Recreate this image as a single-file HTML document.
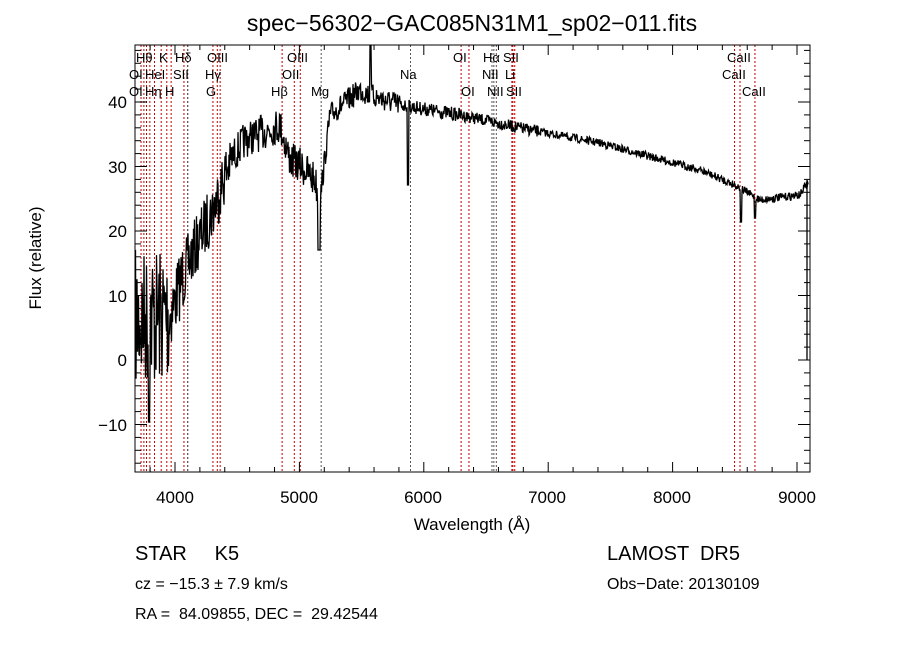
<!DOCTYPE html>
<html><head><meta charset="utf-8"><style>
body{margin:0;background:#fff;}
svg{display:block;font-family:"Liberation Sans",sans-serif;}
text{white-space:pre;}
</style></head><body>
<svg id="s" width="900" height="649" viewBox="0 0 900 649" xmlns="http://www.w3.org/2000/svg">
<rect width="900" height="649" fill="#fff"/>
<text x="472" y="31" font-size="23" text-anchor="middle">spec−56302−GAC085N31M1_sp02−011.fits</text>
<g id="lines"></g>
<polyline id="spec" fill="none" stroke="#000" stroke-width="1.3" points=""/>
<rect x="135" y="45" width="675" height="427" fill="none" stroke="#000" stroke-width="1"/>
<g id="ticks" stroke="#000" stroke-width="1"></g>
<g font-size="17" text-anchor="middle">
<text x="175" y="503">4000</text><text x="299" y="503">5000</text><text x="423" y="503">6000</text>
<text x="547" y="503">7000</text><text x="672" y="503">8000</text><text x="797" y="503">9000</text>
</g>
<g font-size="17" text-anchor="end">
<text x="127" y="108">40</text><text x="127" y="173">30</text><text x="127" y="237">20</text>
<text x="127" y="302">10</text><text x="127" y="366">0</text><text x="127" y="431">−10</text>
</g>
<text x="472" y="530" font-size="17" text-anchor="middle">Wavelength (Å)</text>
<text transform="translate(41,258) rotate(-90)" font-size="17" text-anchor="middle">Flux (relative)</text>
<g font-size="13">
<text x="136" y="62">Hθ</text><text x="159" y="62">K</text><text x="175" y="62">Hδ</text><text x="207" y="62">OIII</text><text x="287" y="62">OIII</text><text x="453" y="62">OI</text><text x="483" y="62">Hα</text><text x="503" y="62">SII</text><text x="727" y="62">CaII</text>
<text x="129" y="79">OI</text><text x="145" y="79">HeI</text><text x="173" y="79">SII</text><text x="205" y="79">Hγ</text><text x="282" y="79">OII</text><text x="400" y="79">Na</text><text x="482" y="79">NII</text><text x="505" y="79">Li</text><text x="722" y="79">CaII</text>
<text x="129" y="96">OI</text><text x="145" y="96">Hη</text><text x="165" y="96">H</text><text x="206" y="96">G</text><text x="271" y="96">Hβ</text><text x="311" y="96">Mg</text><text x="461" y="96">OI</text><text x="487" y="96">NII</text><text x="506" y="96">SII</text><text x="742" y="96">CaII</text>
</g>
<text x="135" y="560" font-size="20">STAR     K5</text>
<text x="607" y="560" font-size="20">LAMOST  DR5</text>
<text x="135" y="589" font-size="16">cz = −15.3 ± 7.9 km/s</text>
<text x="607" y="589" font-size="16">Obs−Date: 20130109</text>
<text x="135" y="619" font-size="16">RA =  84.09855, DEC =  29.42544</text>
</svg>
<script>
var NS="http://www.w3.org/2000/svg";
function X(w){return 175+(w-4000)*0.1244;}
var lg=document.getElementById('lines');
var red=[3727,3750,3771,3798,3835,3889,3934,3969,4072,4102,4305,4340,4363,4861,4959,5007,6300,6363,6716,6731,8498,8542,8662,6708];
var blk=[4102,5175,5893,6548,6563,6583];
function vl(w,c){var l=document.createElementNS(NS,'line');var x=X(w);l.setAttribute('x1',x);l.setAttribute('x2',x);l.setAttribute('y1',45);l.setAttribute('y2',472);l.setAttribute('stroke',c);l.setAttribute('stroke-width','1');l.setAttribute('stroke-dasharray','2,2');lg.appendChild(l);}
red.forEach(function(w){vl(w,'#c00000');});blk.forEach(function(w){vl(w,'#555');});
var tg=document.getElementById('ticks');
function ln(a,b,c,d){var l=document.createElementNS(NS,'line');l.setAttribute('x1',a);l.setAttribute('y1',b);l.setAttribute('x2',c);l.setAttribute('y2',d);tg.appendChild(l);}
for(var w=3800;w<=9100;w+=200){var x=X(w);if(x<135||x>810)continue;var L=(w%1000==0)?10:5;ln(x,472,x,472-L);ln(x,45,x,45+L);}
for(var f=-16;f<=48;f+=2){var y=360-6.45*f;if(y<45||y>472)continue;var L=(f%10==0)?12:6;ln(135,y,135+L,y);ln(810,y,810-L,y);}
var seed=7;function r(){seed=(seed*16807)%2147483647;return seed/2147483647;}
var pts=[[135,320],[170,315],[185,270],[215,205],[230,160],[245,140],[280,125],[290,160],[300,165],[315,180],[320,200],[330,115],[360,90],[370,95],[400,105],[460,115],[520,128],[600,143],[700,170],[735,185],[760,200],[800,195],[806,185]];
function base(x){for(var i=0;i<pts.length-1;i++){if(x<=pts[i+1][0]){var t=(x-pts[i][0])/(pts[i+1][0]-pts[i][0]);return pts[i][1]+t*(pts[i+1][1]-pts[i][1]);}}return 185;}
function amp(x){if(x<170)return 70;if(x<185)return 35;if(x<230)return 30;if(x<320)return 18;if(x<400)return 12;if(x<460)return 7;if(x<540)return 6;return 4;}
var out=[];
for(var x=135.5;x<=808;x+=0.5){var y=base(x)+(r()-0.5)*2*amp(x);
if(Math.abs(x-408)<1)y=185;if(Math.abs(x-319)<1.5)y=250;if(Math.abs(x-370.5)<0.6)y=45;
if(Math.abs(x-741)<1)y=222;if(Math.abs(x-755)<1)y=218;if(x<170&&Math.abs(x-149)<1)y=422;
y=Math.max(46,Math.min(471,y));out.push(x.toFixed(1)+','+y.toFixed(1));}
out.push('807,180');out.push('807,360');
document.getElementById('spec').setAttribute('points',out.join(' '));
</script>
</body></html>
